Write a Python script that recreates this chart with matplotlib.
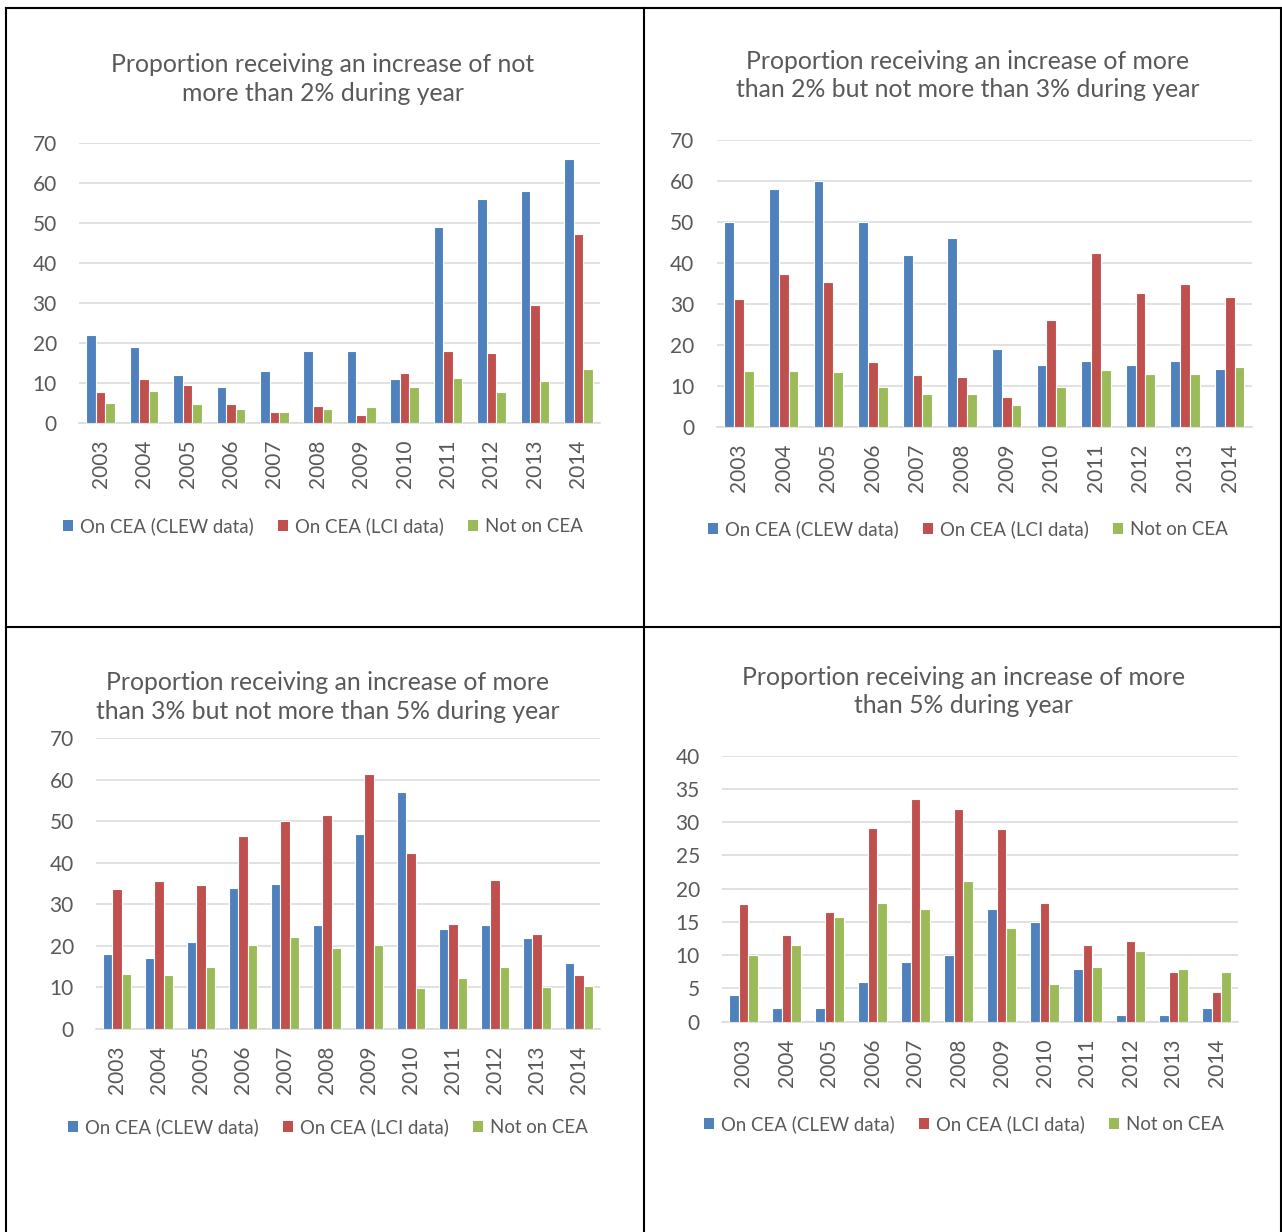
import numpy as np
import matplotlib.pyplot as plt
from matplotlib.lines import Line2D
from matplotlib.patches import Patch

# Categories and series
years = [str(y) for y in range(2003, 2015)]
series_names = ['On CEA (CLEW data)', 'On CEA (LCI data)', 'Not on CEA']
colors = ['#4f81bd', '#c0504d', '#9bbb59']

# Increase of not more than 2%
clew_2 = [22, 19, 12, 9, 13, 18, 18, 11, 49, 56, 58, 66]
lci_2 = [7.8, 11.0, 9.6, 4.8, 2.8, 4.3, 2.1, 12.6, 18.1, 17.7, 29.7, 47.2]
not_2 = [5.2, 8.2, 4.8, 3.6, 2.8, 3.6, 4.1, 9.1, 11.3, 7.8, 10.6, 13.6]

# Increase of more than 2% but not more than 3%
clew_3 = [50, 58, 60, 50, 42, 46, 19, 15, 16, 15, 16, 14]
lci_3 = [31.1, 37.4, 35.3, 15.8, 12.7, 12.2, 7.2, 26.0, 42.3, 32.7, 34.8, 31.7]
not_3 = [13.6, 13.6, 13.3, 9.6, 7.9, 8.0, 5.4, 9.6, 13.8, 12.8, 12.9, 14.6]

# Increase of more than 3% but not more than 5%
clew_5 = [18, 17, 21, 34, 35, 25, 47, 57, 24, 25, 22, 16]
lci_5 = [33.6, 35.6, 34.6, 46.4, 50.0, 51.5, 61.4, 42.5, 25.3, 35.8, 22.9, 12.9]
not_5 = [13.2, 13.0, 14.9, 20.2, 22.2, 19.6, 20.2, 9.9, 12.3, 14.9, 10.1, 10.4]

# Increase of more than 5%
clew_over = [4, 2, 2, 6, 9, 10, 17, 15, 8, 1, 1, 2]
lci_over = [17.7, 13.1, 16.5, 29.2, 33.5, 32.0, 29.0, 17.8, 11.6, 12.2, 7.5, 4.5]
not_over = [10.1, 11.5, 15.7, 17.9, 17.0, 21.1, 14.1, 5.6, 8.2, 10.6, 8.0, 7.5]

titles = [
    'Proportion receiving an increase of not\nmore than 2% during year',
    'Proportion receiving an increase of more\nthan 2% but not more than 3% during year',
    'Proportion receiving an increase of more\nthan 3% but not more than 5% during year',
    'Proportion receiving an increase of more\nthan 5% during year',
]

W, H = 1282, 1232
plt.rcParams['font.family'] = ['Lato', 'DejaVu Sans']
text_color = '#595959'
grid_color = '#d9d9d9'

fig = plt.figure(figsize=(W / 100, H / 100), dpi=100)

# panel layout in pixels: plot area (x0, x1, ytop, ybottom), title y, legend y, centre x, ymax, step
panels = [
    dict(box=(79, 600, 143.3, 423.3), ty=79, ly=526, cx=323, ymax=70, step=10,
         data=(clew_2, lci_2, not_2)),
    dict(box=(716.7, 1252, 140, 426.7), ty=75.5, ly=529, cx=968, ymax=70, step=10,
         data=(clew_3, lci_3, not_3)),
    dict(box=(96, 600, 738.3, 1029), ty=697, ly=1127, cx=328, ymax=70, step=10,
         data=(clew_5, lci_5, not_5)),
    dict(box=(722, 1238, 755.7, 1021.7), ty=691.5, ly=1124, cx=964, ymax=40, step=5,
         data=(clew_over, lci_over, not_over)),
]

x = np.arange(len(years))
bw = 0.22

for p, title in zip(panels, titles):
    x0, x1, yt, yb = p['box']
    ax = fig.add_axes([x0 / W, 1 - yb / H, (x1 - x0) / W, (yb - yt) / H])
    for i, (vals, c) in enumerate(zip(p['data'], colors)):
        ax.bar(x + (i - 1) * bw, vals, bw, color=c, edgecolor='white',
               linewidth=0.8, zorder=3)
    ax.set_xlim(-0.5, len(years) - 0.5)
    ax.set_ylim(0, p['ymax'])
    ax.set_yticks(np.arange(0, p['ymax'] + 1, p['step']))
    ax.yaxis.grid(True, color=grid_color, linewidth=1.1, zorder=0)
    ax.set_axisbelow(True)
    for s in ['top', 'right', 'left']:
        ax.spines[s].set_visible(False)
    ax.spines['bottom'].set_color(grid_color)
    ax.spines['bottom'].set_linewidth(1.1)
    ax.set_xticks(x)
    ax.set_xticklabels(years, rotation=90)
    ax.tick_params(axis='both', length=0, labelsize=15, labelcolor=text_color)
    ax.tick_params(axis='y', pad=16)
    ax.tick_params(axis='x', pad=12)

    fig.text(p['cx'] / W, 1 - p['ty'] / H, title, ha='center', va='center',
             fontsize=17.8, color=text_color, linespacing=1.3)

    handles = [Patch(facecolor=c, edgecolor='none') for c in colors]
    fig.legend(handles, series_names, loc='center', ncol=3, frameon=False,
               bbox_to_anchor=(p['cx'] / W, 1 - p['ly'] / H),
               fontsize=13.4, labelcolor=text_color, handlelength=0.55,
               handleheight=0.55, handletextpad=0.37, columnspacing=1.3)

# table borders around the four panels
border = dict(color='black', linewidth=1.5, transform=fig.transFigure)
for xx in [6, 643.5, 1280.5]:
    fig.add_artist(Line2D([xx / W, xx / W], [1 - 8 / H, 0], **border))
for yy in [8, 627]:
    fig.add_artist(Line2D([6 / W, 1280.5 / W], [1 - yy / H, 1 - yy / H], **border))

fig.savefig('out.png', dpi=100, facecolor='white')
